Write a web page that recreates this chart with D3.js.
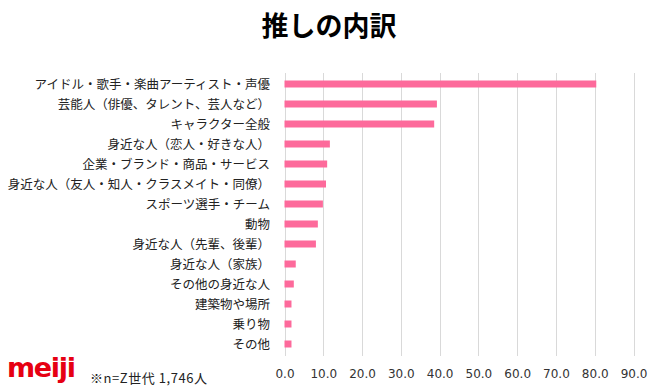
<!DOCTYPE html>
<html>
<head>
<meta charset="utf-8">
<script src="https://cdn.jsdelivr.net/npm/d3@7"></script>
<style>
  body { margin:0; background:#fff; }
  text { font-family: "Noto Sans CJK JP", "DejaVu Sans", sans-serif; }
</style>
</head>
<body>
<div id="chart"></div>
<script>
// données (%)
var categories = ["アイドル・歌手・楽曲アーティスト・声優","芸能人（俳優、タレント、芸人など）","キャラクター全般",
  "身近な人（恋人・好きな人）","企業・ブランド・商品・サービス","身近な人（友人・知人・クラスメイト・同僚）",
  "スポーツ選手・チーム","動物","身近な人（先輩、後輩）","身近な人（家族）","その他の身近な人",
  "建築物や場所","乗り物","その他"];
var values = [80.4, 39.3, 38.6, 11.7, 11.0, 10.7, 9.9, 8.6, 8.1, 2.9, 2.4, 1.8, 1.8, 1.8];
var ticks = [0,10,20,30,40,50,60,70,80,90];

var width = 661, height = 392;
var svg = d3.select("#chart").append("svg").attr("width", width).attr("height", height);

var x = d3.scaleLinear().domain([0, 90]).range([284.5, 633.5]);
var y = d3.scaleBand().domain(categories).range([74, 354]).paddingInner(0.65).paddingOuter(0.325);

// titre
svg.append("text").attr("x", 329).attr("y", 36).attr("text-anchor", "middle")
  .style("font-size", "27px").style("font-weight", "bold").attr("fill", "#000").text("推しの内訳");

// grille
svg.append("g").selectAll("line").data(ticks).join("line")
  .attr("x1", d => Math.round(x(d)) + 0.5).attr("x2", d => Math.round(x(d)) + 0.5)
  .attr("y1", 73).attr("y2", 356)
  .attr("stroke", "#d9d9d9").attr("stroke-width", 1);

// barres
svg.append("g").selectAll("rect").data(values).join("rect")
  .attr("x", x(0))
  .attr("y", (d, i) => y(categories[i]))
  .attr("width", d => x(d) - x(0))
  .attr("height", y.bandwidth())
  .attr("fill", "#fd6a9b");

// libellés catégories
svg.append("g").selectAll("text").data(categories).join("text")
  .attr("x", 270).attr("y", d => y(d) + y.bandwidth() / 2)
  .attr("dy", "0.36em").attr("text-anchor", "end")
  .style("font-size", "12.5px").attr("fill", "#222").text(d => d);

// axe x
var xAxis = d3.axisBottom(x).tickValues(ticks).tickFormat(d3.format(".1f")).tickSize(0);
var gx = svg.append("g").attr("transform", "translate(0,366)").call(xAxis);
gx.select(".domain").remove();
gx.selectAll("text").style("font-family", "DejaVu Sans").style("font-size", "12px").attr("fill", "#333");

// logo + note
svg.append("text").attr("x", 7).attr("y", 377)
  .style("font-family", "DejaVu Sans").style("font-size", "27px").style("font-weight", "bold")
  .attr("fill", "#e60012").attr("textLength", 69).text("meiji");
svg.append("text").attr("x", 90).attr("y", 383)
  .style("font-size", "13px").attr("fill", "#222").attr("textLength", 117).text("※n=Z世代 1,746人");
</script>
</body>
</html>
